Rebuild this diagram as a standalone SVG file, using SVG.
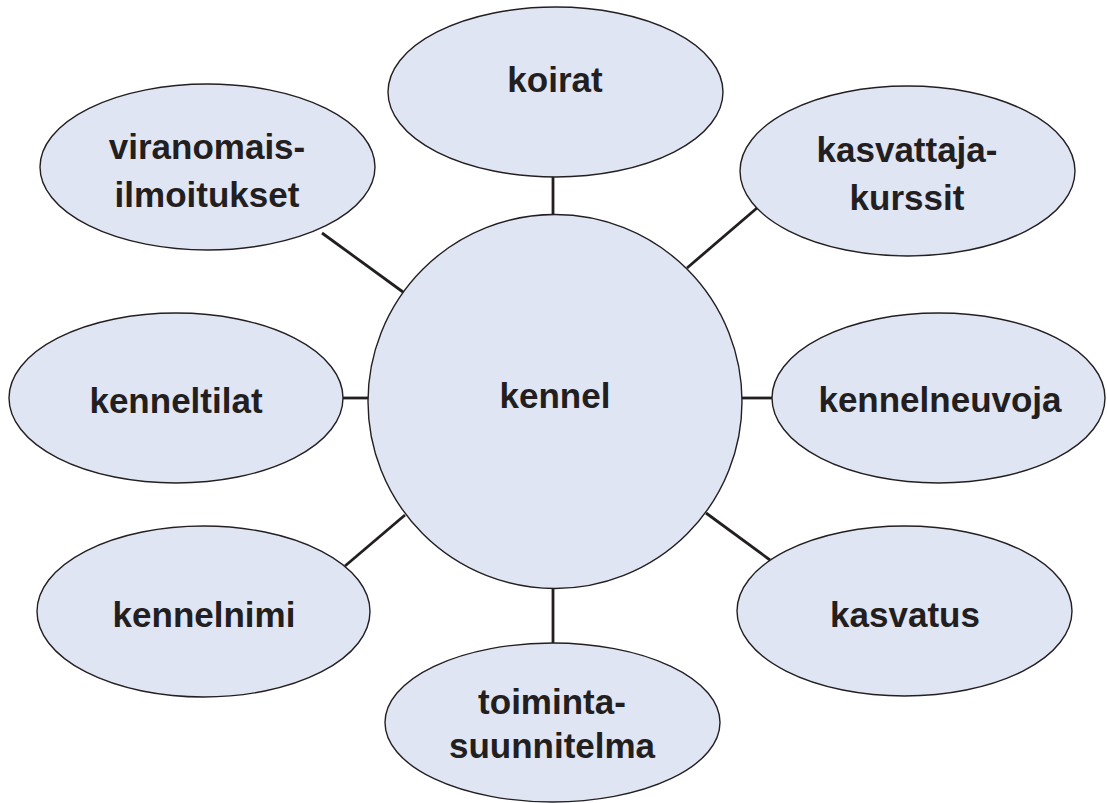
<svg xmlns="http://www.w3.org/2000/svg" width="1107" height="803" viewBox="0 0 1107 803">
<style>
.n{fill:#e0e5f4;stroke:#231f20;stroke-width:1.4}
.t{font-family:"Liberation Sans",Arial,sans-serif;font-weight:bold;font-size:35px;fill:#231f20;text-anchor:middle}
.c line{stroke:#231f20;stroke-width:2.8}
</style>
<rect width="1107" height="803" fill="#fff"/>
<g class="c" id="connectors">
<line x1="553" y1="176" x2="553" y2="215"/>
<line x1="553" y1="588" x2="553" y2="643"/>
<line x1="322" y1="233" x2="403" y2="292"/>
<line x1="687" y1="268" x2="757" y2="208"/>
<line x1="343" y1="398" x2="368" y2="398"/>
<line x1="742" y1="398" x2="772" y2="398"/>
<line x1="405" y1="515" x2="345" y2="566"/>
<line x1="706" y1="513" x2="770" y2="560"/>
</g>
<g id="koirat"><ellipse class="n" cx="555.5" cy="92" rx="167.5" ry="85"/><text class="t" x="555" y="92">koirat</text></g>
<g id="viranomais"><ellipse class="n" cx="207.5" cy="167" rx="167.5" ry="83"/><text class="t" x="207" y="159">viranomais-</text><text class="t" x="207" y="207">ilmoitukset</text></g>
<g id="kasvattaja"><ellipse class="n" cx="907.5" cy="171" rx="167.5" ry="85"/><text class="t" x="907" y="162">kasvattaja-</text><text class="t" x="907" y="210">kurssit</text></g>
<g id="kenneltilat"><ellipse class="n" cx="176" cy="398" rx="167" ry="85"/><text class="t" x="176" y="413">kenneltilat</text></g>
<g id="kennel"><circle class="n" cx="555" cy="401.5" r="187"/><text class="t" x="555" y="408">kennel</text></g>
<g id="kennelneuvoja"><ellipse class="n" cx="938.5" cy="398" rx="166.5" ry="85"/><text class="t" x="940" y="412">kennelneuvoja</text></g>
<g id="kennelnimi"><ellipse class="n" cx="203.5" cy="611.5" rx="166.5" ry="85.5"/><text class="t" x="204" y="627">kennelnimi</text></g>
<g id="kasvatus"><ellipse class="n" cx="904.5" cy="611" rx="167.5" ry="85"/><text class="t" x="905" y="627">kasvatus</text></g>
<g id="toiminta"><ellipse class="n" cx="552.5" cy="722.5" rx="167.5" ry="79.5"/><text class="t" x="552" y="714">toiminta-</text><text class="t" x="552" y="758">suunnitelma</text></g>
</svg>
